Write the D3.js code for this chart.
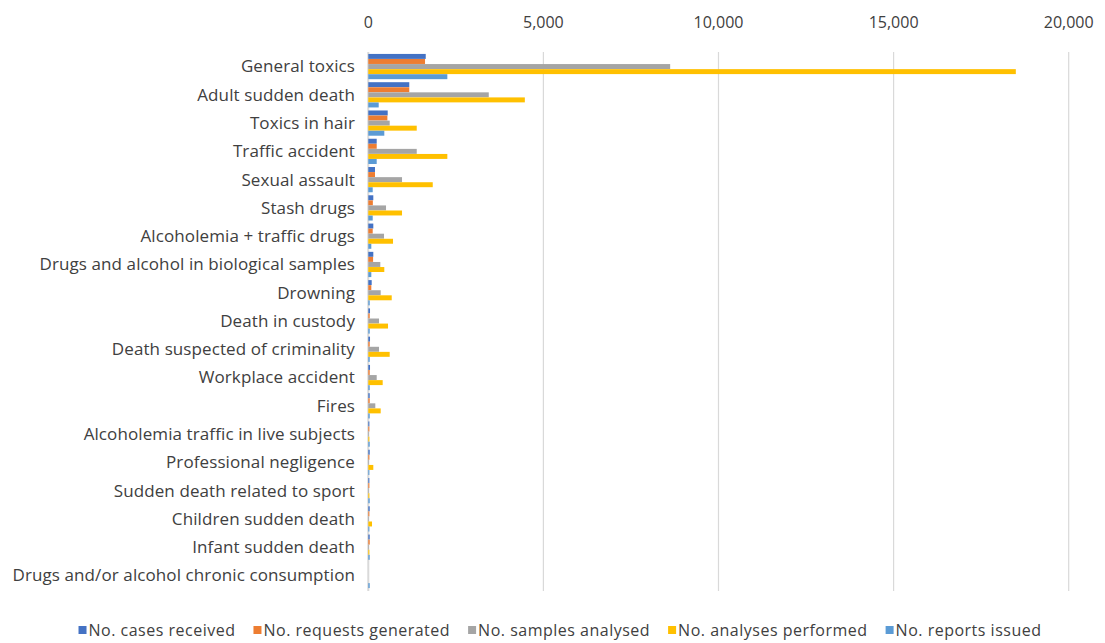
<!DOCTYPE html>
<html>
<head>
<meta charset="utf-8">
<script src="https://cdn.jsdelivr.net/npm/d3@7"></script>
<style>
  body { margin: 0; background: #fff; }
  text { font-family: "Open Sans", "DejaVu Sans", sans-serif; fill: #404040; }
</style>
</head>
<body>
<div id="chart"></div>
<script>
// Categories (top to bottom)
const categories = [
  "General toxics", "Adult sudden death", "Toxics in hair", "Traffic accident",
  "Sexual assault", "Stash drugs", "Alcoholemia + traffic drugs",
  "Drugs and alcohol in biological samples", "Drowning", "Death in custody",
  "Death suspected of criminality", "Workplace accident", "Fires",
  "Alcoholemia traffic in live subjects", "Professional negligence",
  "Sudden death related to sport", "Children sudden death",
  "Infant sudden death", "Drugs and/or alcohol chronic consumption"
];

const seriesNames = [
  "No. cases received", "No. requests generated", "No. samples analysed",
  "No. analyses performed", "No. reports issued"
];
const seriesColors = ["#4472C4", "#ED7D31", "#A5A5A5", "#FFC000", "#5B9BD5"];

// values, one array per series
const casesReceived     = [1640, 1170, 554, 240, 191, 143, 143, 143, 97, 49, 49, 49, 40, 30, 40, 30, 40, 40, 0];
const requestsGenerated = [1620, 1170, 545, 240, 191, 130, 126, 137, 86, 40, 40, 40, 40, 30, 30, 30, 30, 40, 0];
const samplesAnalysed   = [8620, 3440, 611, 1383, 963, 506, 449, 343, 354, 306, 306, 240, 200, 20, 20, 20, 20, 20, 0];
const analysesPerformed = [18490, 4470, 1383, 2257, 1840, 963, 706, 457, 669, 563, 611, 411, 354, 30, 143, 30, 106, 30, 0];
const reportsIssued     = [2257, 297, 457, 240, 126, 126, 86, 86, 40, 40, 40, 40, 40, 40, 30, 40, 30, 40, 40];

const xTicks = [0, 5000, 10000, 15000, 20000];

const allSeries = [casesReceived, requestsGenerated, samplesAnalysed, analysesPerformed, reportsIssued];

const W = 1105, H = 643;
const svg = d3.select("#chart").append("svg")
  .attr("width", W).attr("height", H);

const x = d3.scaleLinear().domain([0, 20000]).range([368.3, 1068.7]);
const y = d3.scaleBand().domain(categories).range([51, 591]).padding(0.1);
const ySub = d3.scaleBand().domain(d3.range(seriesNames.length)).range([0, y.bandwidth()]).padding(0.02);

// gridlines
svg.append("g").selectAll("line")
  .data(xTicks)
  .join("line")
  .attr("x1", d => x(d)).attr("x2", d => x(d))
  .attr("y1", 52).attr("y2", 591)
  .attr("stroke", "#d9d9d9")
  .attr("stroke-width", d => d === 0 ? 2 : 1.2);

// top tick labels
svg.append("g").selectAll("text")
  .data(xTicks)
  .join("text")
  .attr("x", d => x(d))
  .attr("y", 22)
  .attr("dy", "0.35em")
  .attr("text-anchor", "middle")
  .style("font-size", "16px")
  .text(d => d3.format(",")(d));

// bars
const groups = svg.append("g").selectAll("g")
  .data(categories)
  .join("g")
  .attr("transform", c => `translate(0,${y(c)})`);

groups.selectAll("rect")
  .data((c, i) => allSeries.map((s, k) => ({ k, v: s[i] })))
  .join("rect")
  .attr("x", x(0))
  .attr("y", d => ySub(d.k))
  .attr("height", ySub.bandwidth())
  .attr("width", d => x(d.v) - x(0))
  .attr("fill", d => seriesColors[d.k]);

// category labels
svg.append("g").selectAll("text")
  .data(categories)
  .join("text")
  .attr("x", 355)
  .attr("y", c => y(c) + y.bandwidth() / 2)
  .attr("dy", "0.35em")
  .attr("text-anchor", "end")
  .style("font-size", "17px")
  .style("letter-spacing", "0.1px")
  .text(c => c);

// legend
const legend = svg.append("g");
let lx = 0;
seriesNames.forEach((name, k) => {
  const item = legend.append("g").attr("transform", `translate(${lx},0)`);
  item.append("rect").attr("x", 0).attr("y", -4).attr("width", 8).attr("height", 8)
    .attr("fill", seriesColors[k]);
  const t = item.append("text").attr("x", 10).attr("y", 0).attr("dy", "0.35em")
    .style("font-size", "16px").style("letter-spacing", "0.5px").text(name);
  lx += 10 + t.node().getComputedTextLength() + 18;
});
const legendW = lx - 18;
legend.attr("transform", `translate(${560 - legendW / 2},630)`);
</script>
</body>
</html>
